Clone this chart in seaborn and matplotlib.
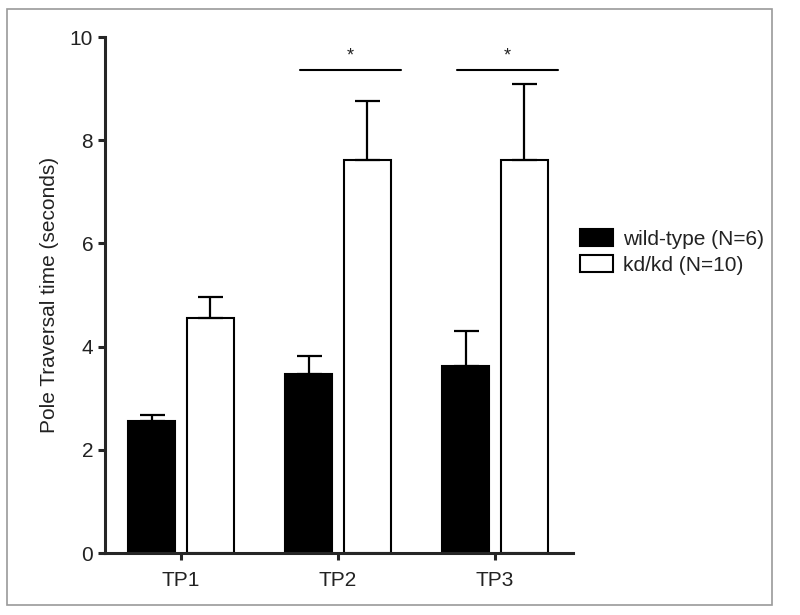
import numpy as np
import pandas as pd
import seaborn as sns
import matplotlib.pyplot as plt
from matplotlib.patches import Patch, Rectangle

# Values (mean and upper SEM)
timepoints = ["TP1", "TP2", "TP3"]
groups = ["wild-type (N=6)", "kd/kd (N=10)"]
wt_mean = [2.55, 3.47, 3.63]
wt_sem = [0.12, 0.35, 0.67]
kd_mean = [4.55, 7.62, 7.61]
kd_sem = [0.42, 1.14, 1.47]
sig_pairs = ["TP2", "TP3"]
sig_height = 9.36

sns.set_style("ticks")
plt.rcParams["font.family"] = ["Liberation Sans", "DejaVu Sans"]
plt.rcParams["text.color"] = "#222222"

df = pd.DataFrame({
    "Timepoint": timepoints * 2,
    "Group": [groups[0]] * 3 + [groups[1]] * 3,
    "Time": wt_mean + kd_mean,
    "SEM": wt_sem + kd_sem,
})

fig = plt.figure(figsize=(8, 6.15), dpi=100)
ax = fig.add_axes([0.13125, 0.1008, 0.585, 0.839])

sns.barplot(data=df, x="Timepoint", y="Time", hue="Group", hue_order=groups,
            palette={groups[0]: "black", groups[1]: "white"},
            edgecolor="black", linewidth=1.5, width=0.75, gap=0.2,
            errorbar=None, legend=False, ax=ax)

# upper-only error bars at each bar centre
for patch, (_, row) in zip(ax.patches, df.iterrows()):
    xc = patch.get_x() + patch.get_width() / 2
    ax.errorbar(xc, row["Time"], yerr=[[0], [row["SEM"]]], fmt="none",
                ecolor="black", elinewidth=1.6, capsize=9, capthick=1.6, zorder=1)

# significance bars
for tp in sig_pairs:
    i = timepoints.index(tp)
    ax.plot([i - 0.5 + 0.26, i + 0.5 - 0.1], [sig_height, sig_height], color="black", lw=1.5)
    ax.text(i + 0.08, sig_height + 0.1, "*", ha="center", va="bottom", fontsize=13)

ax.set_ylim(0, 10)
ax.set_xlim(-0.484, 2.497)
ax.set_yticks([0, 2, 4, 6, 8, 10])
ax.set_xlabel("")
ax.set_ylabel("Pole Traversal time (seconds)", fontsize=15, labelpad=8, color="#222222")
ax.tick_params(axis="both", labelsize=15, width=2.2, length=5, direction="out",
               labelcolor="#222222")
ax.tick_params(axis="x", pad=8)
for side in ["left", "bottom"]:
    ax.spines[side].set_linewidth(2.2)
sns.despine(ax=ax)

handles = [Patch(facecolor="black", edgecolor="black", linewidth=1.5),
           Patch(facecolor="white", edgecolor="black", linewidth=1.5)]
fig.legend(handles, groups, loc="upper left", bbox_to_anchor=(0.712, 0.645),
           frameon=False, fontsize=15, handlelength=1.6, handleheight=0.9,
           handletextpad=0.45, labelspacing=0.3, borderpad=0)

# light grey frame around the figure
fig.patches.append(Rectangle((0.009, 0.016), 0.956, 0.97, transform=fig.transFigure,
                             fill=False, edgecolor="#9a9a9a", linewidth=1.2))

fig.savefig("out.png", dpi=100)
